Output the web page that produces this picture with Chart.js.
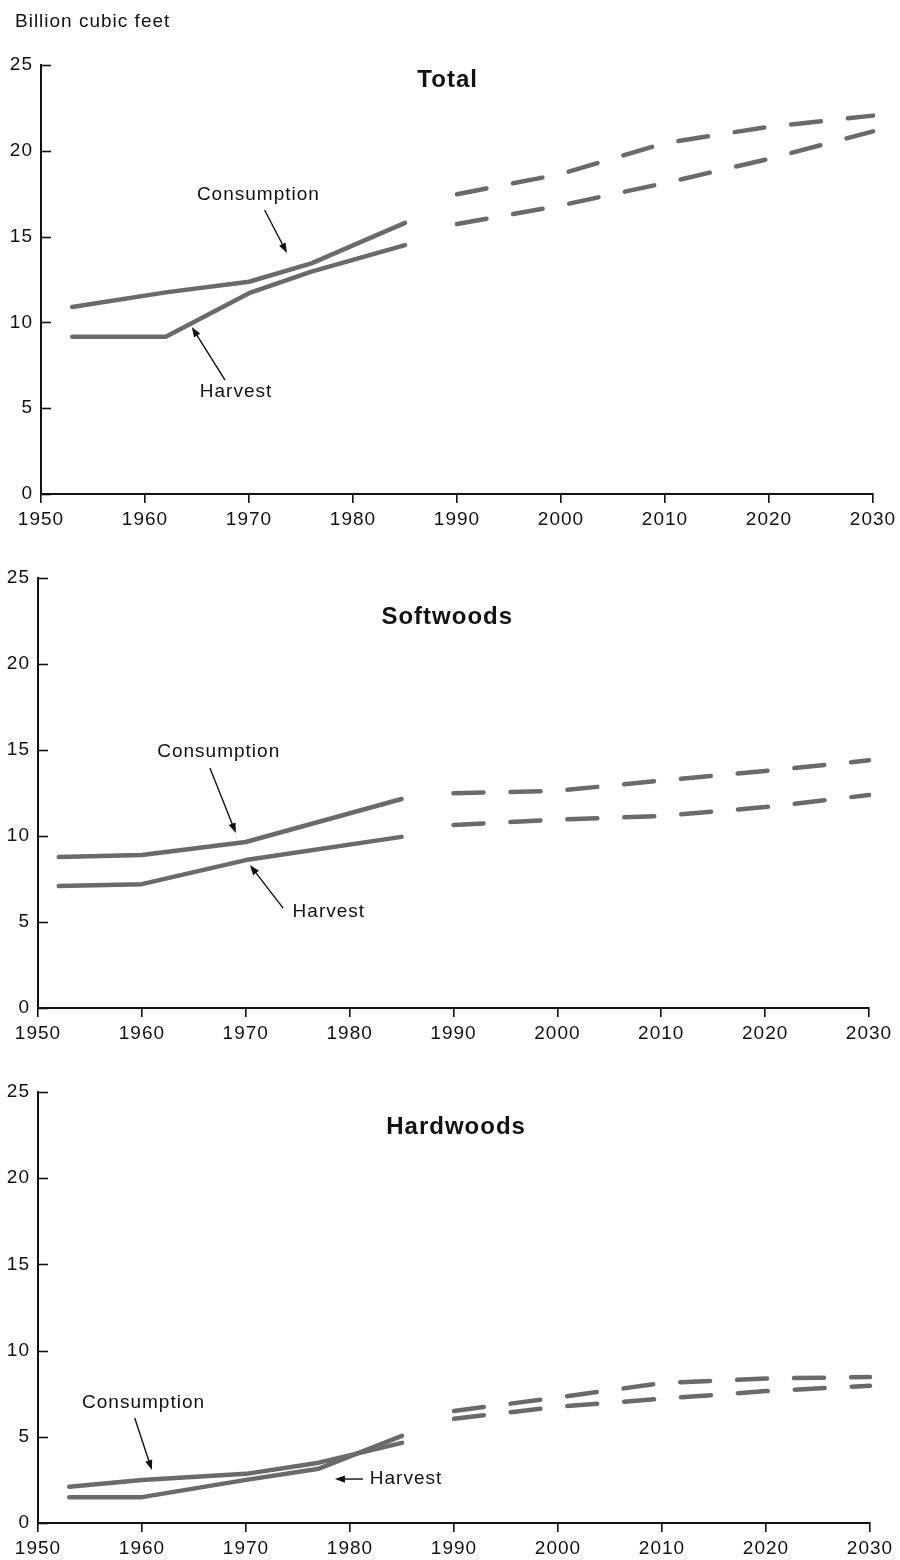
<!DOCTYPE html>
<html>
<head>
<meta charset="utf-8">
<title>Softwood and hardwood consumption and harvest</title>
<script src="https://cdn.jsdelivr.net/npm/chart.js@4.4.1/dist/chart.umd.min.js"></script>
<style>
  html, body { margin: 0; padding: 0; background: #fff; }
  #page { position: relative; width: 900px; height: 1560px; overflow: hidden; background: #fff; }
  .panel { position: absolute; left: 0; width: 900px; }
  canvas { display: block; }
</style>
</head>
<body>
<div id="page">
  <div class="panel" style="top:0;height:545px"><canvas id="cTotal" width="900" height="545"></canvas></div>
  <div class="panel" style="top:545px;height:510px"><canvas id="cSoft" width="900" height="510"></canvas></div>
  <div class="panel" style="top:1055px;height:505px"><canvas id="cHard" width="900" height="505"></canvas></div>
</div>
<script>
// ---- Axis ticks ----
const xTickYears = [1950, 1960, 1970, 1980, 1990, 2000, 2010, 2020, 2030];
const xTickLabels = ['1950', '1960', '1970', '1980', '1990', '2000', '2010', '2020', '2030'];
const yTickValues = [0, 5, 10, 15, 20, 25];
const yTickLabels = ['0', '5', '10', '15', '20', '25'];

// ---- Projection years (shared by all panels) ----
const projYears = [1990, 2000, 2010, 2020, 2030];

// ---- Total (billion cubic feet) ----
const totalHistYears = [1953, 1962, 1970, 1976, 1985];
const totalConsumptionHist = [10.9, 11.75, 12.37, 13.44, 15.8];
const totalHarvestHist = [9.17, 9.17, 11.7, 12.96, 14.5];
const totalConsumptionProj = [17.47, 18.65, 20.45, 21.4, 22.05];
const totalHarvestProj = [15.73, 16.82, 18.12, 19.53, 21.13];

// ---- Softwoods ----
const softHistYears = [1952, 1960, 1970, 1985];
const softConsumptionHist = [8.78, 8.9, 9.65, 12.15];
const softHarvestHist = [7.1, 7.2, 8.6, 9.95];
const softConsumptionProj = [12.48, 12.63, 13.22, 13.78, 14.4];
const softHarvestProj = [10.64, 10.95, 11.16, 11.68, 12.38];

// ---- Hardwoods ----
const hardHistYears = [1953, 1960, 1970, 1977, 1985];
const hardConsumptionHist = [2.1, 2.5, 2.85, 3.5, 4.65];
const hardHarvestHist = [1.5, 1.5, 2.5, 3.15, 5.05];
const hardHarvestProj = [6.5, 7.28, 8.12, 8.38, 8.47];
const hardConsumptionProj = [6.05, 6.74, 7.21, 7.65, 7.96];

const FONT = "'Liberation Sans', Arial, Helvetica, sans-serif";
const INK = '#111111';
const LINE = '#6a6a6a';

function toPoints(xs, ys) {
  return xs.map((x, i) => ({ x: x, y: ys[i] }));
}

function series(label, xs, ys, dashed) {
  return {
    label: label,
    data: toPoints(xs, ys),
    borderColor: LINE,
    borderWidth: 4.5,
    borderDash: dashed ? [30, 27] : [],
    borderCapStyle: 'round',
    borderJoinStyle: 'round',
    pointRadius: 0,
    tension: 0,
    fill: false,
    clip: 6
  };
}

function arrowLine(ctx, x1, y1, x2, y2) {
  const ang = Math.atan2(y2 - y1, x2 - x1);
  const len = 10, half = 3.6;
  ctx.beginPath();
  ctx.moveTo(x1, y1);
  ctx.lineTo(x2 - Math.cos(ang) * (len - 2), y2 - Math.sin(ang) * (len - 2));
  ctx.stroke();
  ctx.beginPath();
  ctx.moveTo(x2, y2);
  ctx.lineTo(x2 - Math.cos(ang) * len - Math.sin(ang) * half, y2 - Math.sin(ang) * len + Math.cos(ang) * half);
  ctx.lineTo(x2 - Math.cos(ang) * len + Math.sin(ang) * half, y2 - Math.sin(ang) * len - Math.cos(ang) * half);
  ctx.closePath();
  ctx.fill();
}

// Panel titles, series call-outs, unit caption and the inward y tick marks
const panelText = {
  id: 'panelText',
  beforeDraw(chart) {
    chart.ctx.letterSpacing = '1px';
  },
  afterDraw(chart, args, o) {
    const ctx = chart.ctx;
    const xs = chart.scales.x, ys = chart.scales.y;
    const area = chart.chartArea;
    ctx.save();
    ctx.letterSpacing = '1px';
    ctx.fillStyle = INK;
    ctx.strokeStyle = INK;

    // inward tick marks on the value axis
    ctx.lineWidth = 1.6;
    yTickValues.forEach(v => {
      const py = Math.round(ys.getPixelForValue(v)) + 0.5;
      ctx.beginPath();
      ctx.moveTo(area.left, py);
      ctx.lineTo(area.left + 10, py);
      ctx.stroke();
    });

    if (o.unit) {
      ctx.font = '19px ' + FONT;
      ctx.textAlign = 'left';
      ctx.textBaseline = 'alphabetic';
      ctx.fillText(o.unit.text, o.unit.left, o.unit.baseline);
    }

    ctx.font = 'bold 24px ' + FONT;
    ctx.textAlign = 'center';
    ctx.textBaseline = 'alphabetic';
    ctx.fillText(o.title.text, xs.getPixelForValue(o.title.x), ys.getPixelForValue(o.title.y));

    ctx.font = '19px ' + FONT;
    ctx.textBaseline = 'middle';
    ctx.lineWidth = 1.4;
    o.notes.forEach(n => {
      ctx.textAlign = n.align || 'center';
      ctx.fillText(n.text, xs.getPixelForValue(n.x), ys.getPixelForValue(n.y));
      const a = n.arrow;
      arrowLine(ctx,
        xs.getPixelForValue(a[0]), ys.getPixelForValue(a[1]),
        xs.getPixelForValue(a[2]), ys.getPixelForValue(a[3]));
    });
    ctx.restore();
  }
};

function makeChart(id, cfg) {
  return new Chart(document.getElementById(id), {
    type: 'line',
    data: { datasets: cfg.datasets },
    options: {
      responsive: false,
      animation: false,
      events: [],
      layout: { padding: { top: cfg.top, right: cfg.right, left: 0, bottom: 0 } },
      plugins: {
        legend: { display: false },
        tooltip: { enabled: false },
        panelText: cfg.text
      },
      scales: {
        x: {
          type: 'linear',
          min: 1950,
          max: 2030,
          afterFit(s) { s.height = cfg.xh; },
          afterBuildTicks(s) { s.ticks = xTickYears.map(v => ({ value: v })); },
          ticks: {
            callback: (v, i) => xTickLabels[i],
            color: INK,
            font: { family: FONT, size: 19 },
            padding: 5,
            maxRotation: 0,
            autoSkip: false
          },
          grid: { display: true, drawOnChartArea: false, drawTicks: true, tickLength: 9, color: INK, lineWidth: 1.6 },
          border: { display: true, color: INK, width: 2 }
        },
        y: {
          type: 'linear',
          min: 0,
          max: 25,
          afterFit(s) { s.width = cfg.yw; },
          afterBuildTicks(s) { s.ticks = yTickValues.map(v => ({ value: v })); },
          ticks: {
            callback: (v, i) => yTickLabels[i],
            color: INK,
            font: { family: FONT, size: 19 },
            padding: 8
          },
          grid: { display: true, drawOnChartArea: false, drawTicks: false },
          border: { display: true, color: INK, width: 2 }
        }
      }
    },
    plugins: [panelText]
  });
}

makeChart('cTotal', {
  top: 65, right: 27, xh: 51, yw: 41,
  datasets: [
    series('Consumption', totalHistYears, totalConsumptionHist, false),
    series('Harvest', totalHistYears, totalHarvestHist, false),
    series('Consumption projection', projYears, totalConsumptionProj, true),
    series('Harvest projection', projYears, totalHarvestProj, true)
  ],
  text: {
    unit: { text: 'Billion cubic feet', left: 15, baseline: 27 },
    title: { text: 'Total', x: 1989.1, y: 23.7 },
    notes: [
      { text: 'Consumption', x: 1970.9, y: 17.42, arrow: [1971.5, 16.55, 1973.65, 14.04] },
      { text: 'Harvest', x: 1968.75, y: 5.94, arrow: [1967.7, 6.64, 1964.5, 9.73] }
    ]
  }
});

makeChart('cSoft', {
  top: 33, right: 31, xh: 47, yw: 38,
  datasets: [
    series('Consumption', softHistYears, softConsumptionHist, false),
    series('Harvest', softHistYears, softHarvestHist, false),
    series('Consumption projection', projYears, softConsumptionProj, true),
    series('Harvest projection', projYears, softHarvestProj, true)
  ],
  text: {
    title: { text: 'Softwoods', x: 1989.4, y: 22.35 },
    notes: [
      { text: 'Consumption', x: 1967.4, y: 14.88, arrow: [1966.55, 13.95, 1969.05, 10.17] },
      { text: 'Harvest', x: 1978.0, y: 5.58, arrow: [1973.6, 5.81, 1970.4, 8.31] }
    ]
  }
});

makeChart('cHard', {
  top: 37, right: 30, xh: 37, yw: 38,
  datasets: [
    series('Consumption', hardHistYears, hardConsumptionHist, false),
    series('Harvest', hardHistYears, hardHarvestHist, false),
    series('Harvest projection', projYears, hardHarvestProj, true),
    series('Consumption projection', projYears, hardConsumptionProj, true)
  ],
  text: {
    title: { text: 'Hardwoods', x: 1990.2, y: 22.56 },
    notes: [
      { text: 'Consumption', x: 1960.15, y: 6.96, arrow: [1959.3, 6.09, 1960.95, 3.07] },
      { text: 'Harvest', x: 1981.9, y: 2.55, align: 'left', arrow: [1981.25, 2.55, 1978.55, 2.55] }
    ]
  }
});
</script>
</body>
</html>
